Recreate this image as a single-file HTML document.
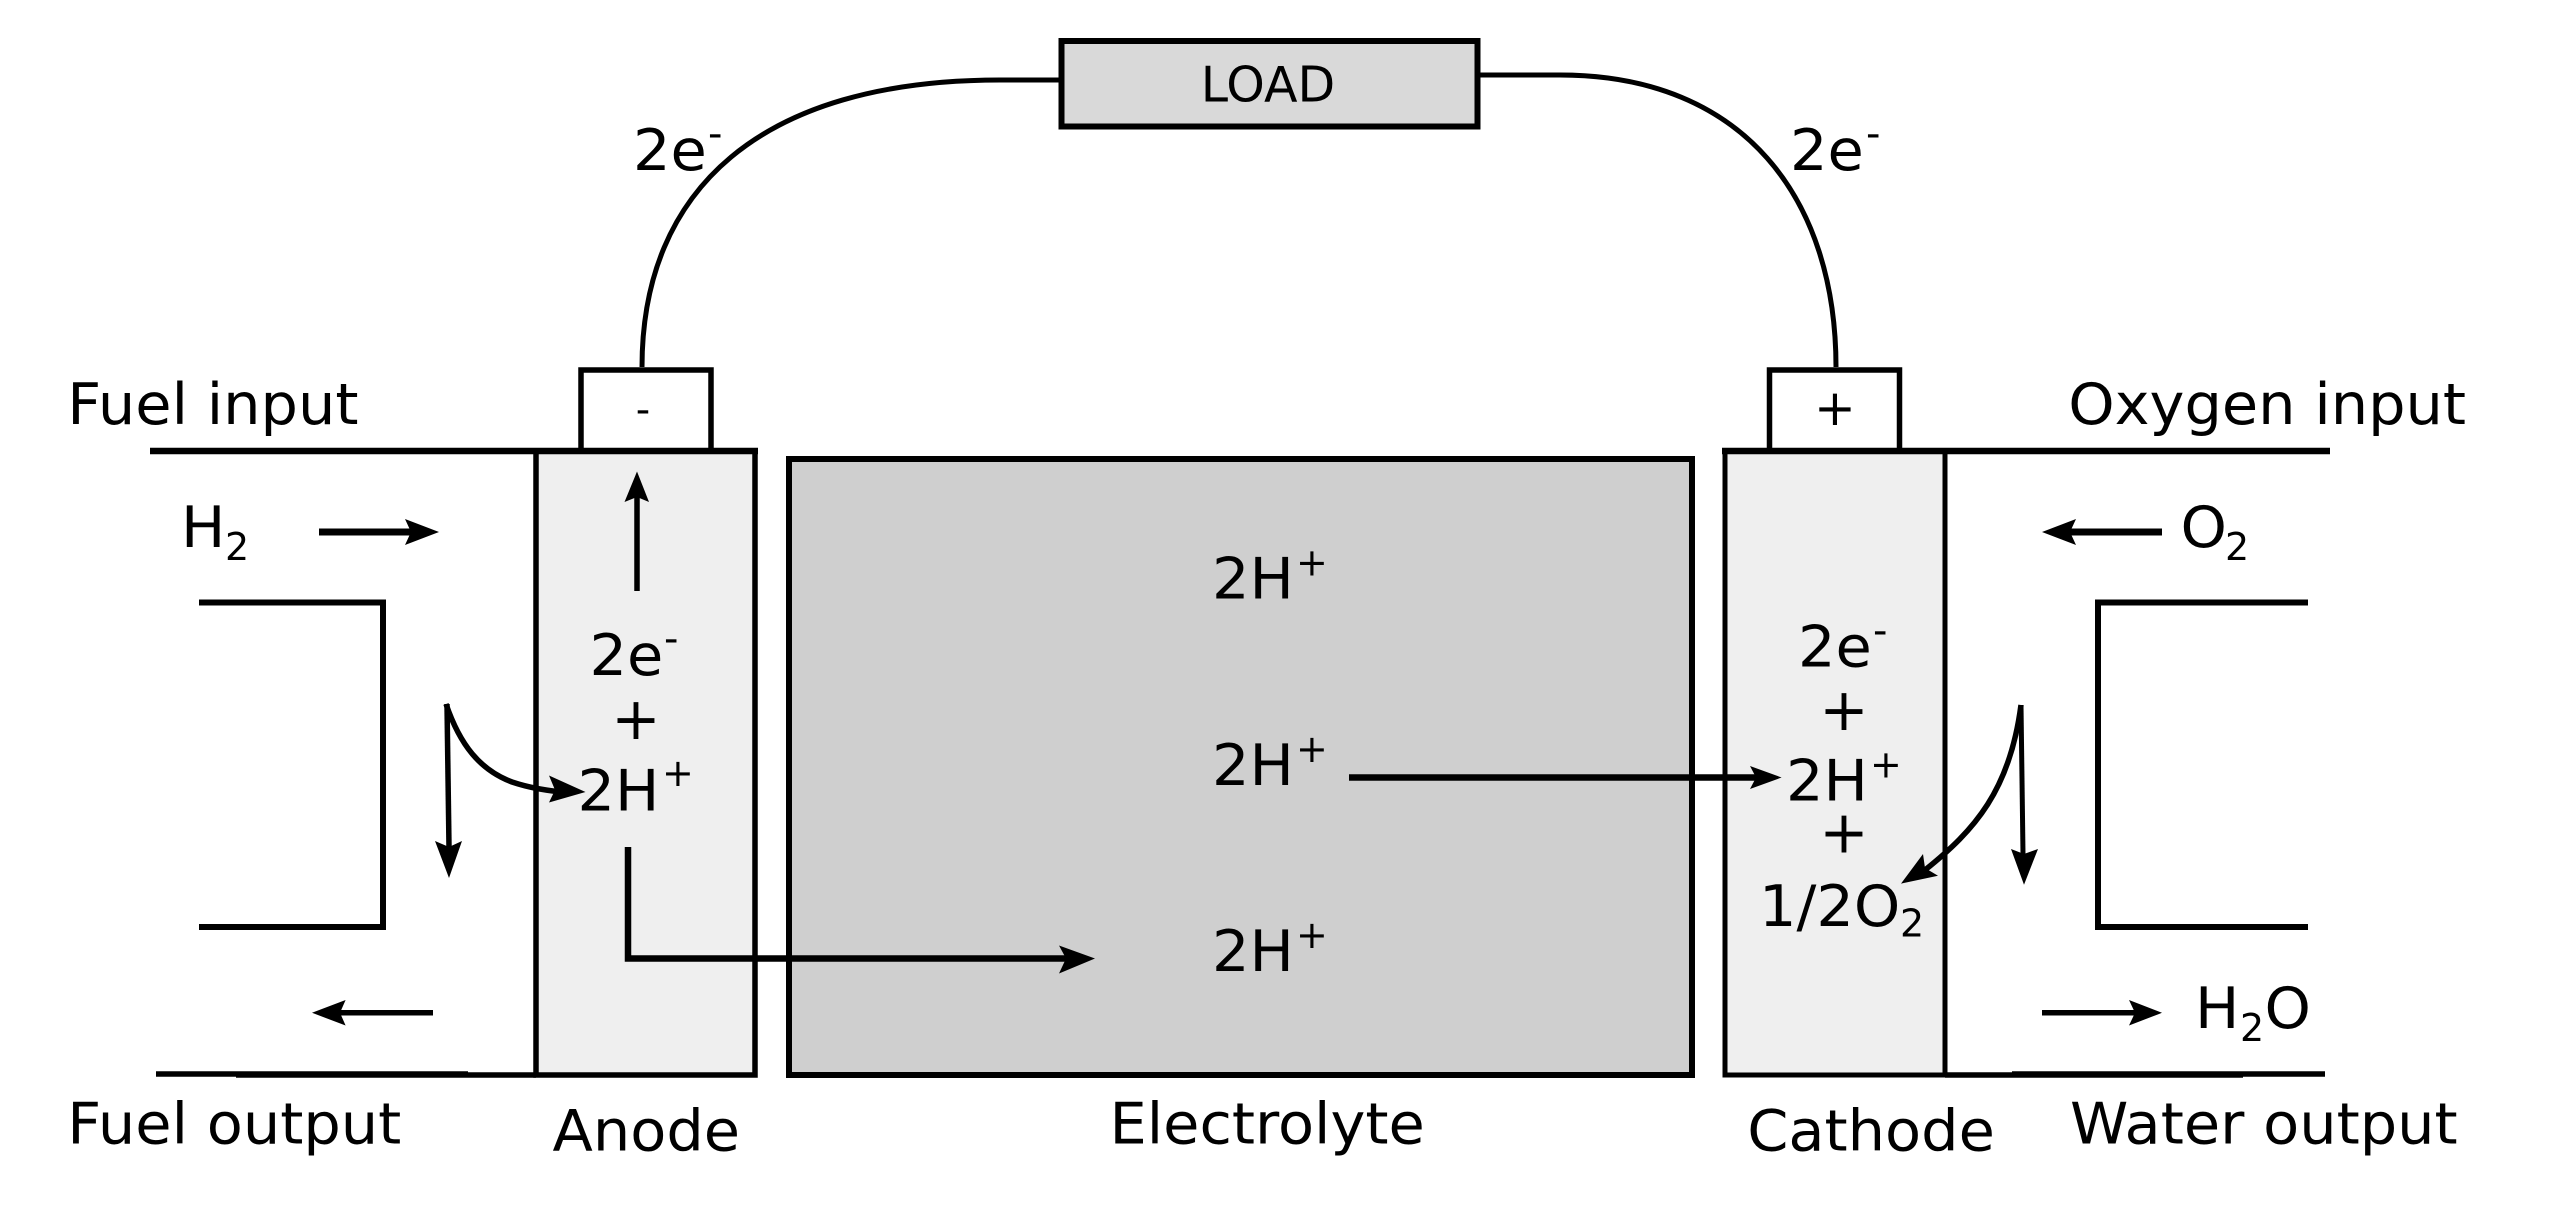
<!DOCTYPE html>
<html><head><meta charset="utf-8"><style>
html,body{margin:0;padding:0;background:#fff}
svg{display:block}
text{font-family:"DejaVu Sans","Liberation Sans",sans-serif;fill:#000}
.l{font-size:57px}.s{font-size:38px}.p{font-size:38px}.b{font-size:59px}
</style></head><body>
<svg width="2549" height="1205" viewBox="0 0 2549 1205" xmlns="http://www.w3.org/2000/svg">
<rect width="2549" height="1205" fill="#fff"/>
<g stroke="#000" fill="none">
<rect x="536" y="451" width="219" height="624" fill="#efefef" stroke-width="5.5"/>
<rect x="789" y="459" width="903" height="616" fill="#cfcfcf" stroke-width="6"/>
<rect x="1725" y="451" width="220" height="624" fill="#efefef" stroke-width="5"/>
<rect x="1061.500" y="41" width="416" height="85.500" fill="#d9d9d9" stroke-width="6"/>
<rect x="581" y="370" width="130" height="81" fill="#fff" stroke-width="5.500"/>
<rect x="1769.500" y="370" width="130" height="81" fill="#fff" stroke-width="5.500"/>
<path d="M150,451H758" stroke-width="6.500"/>
<path d="M1722,451H2330" stroke-width="6.500"/>
<path d="M156,1074H468M236,1075H536" stroke-width="5.500"/>
<path d="M2012,1074H2325M1945,1075H2243" stroke-width="5.500"/>
<path d="M199,602.500H383V927H199" stroke-width="6"/>
<path d="M2308,602.500H2098V927H2308" stroke-width="6"/>
<path d="M642,367C642,190 760,80 1000,80L1059,80" stroke-width="5"/>
<path d="M1836,367C1836,200 1745,75 1560,75L1480,75" stroke-width="5"/>
<path d="M319,532H412" stroke-width="7"/>
<path d="M2162,532H2069" stroke-width="7"/>
<path d="M637,591V495" stroke-width="5.500"/>
<path d="M447,704L449,847" stroke-width="5.500"/>
<path d="M446,704C460,745 480,770 512,782C530,788 545,790 560,792" stroke-width="5.500"/>
<path d="M628,847V958.500H1066" stroke-width="6.500"/>
<path d="M433,1012.800H340" stroke-width="5.500"/>
<path d="M2042,1012.800H2135" stroke-width="5.500"/>
<path d="M1349,777.500H1756" stroke-width="6.500"/>
<path d="M2021,705L2023,854" stroke-width="5"/>
<path d="M2021,705C2010,790 1975,830 1925,870" stroke-width="5.500"/>
</g>
<g fill="#000">
<polygon points="439,532 405,519 411,532 405,545"/>
<polygon points="2042,532 2076,519 2070,532 2076,545"/>
<polygon points="637,471.500 624.500,502 637,497 649,502"/>
<polygon points="449,878 435,841 449,847 462,841"/>
<polygon points="585.500,792 549,775.500 555,790 549,802.500"/>
<polygon points="1095,958.500 1059,945.500 1066,958.500 1059,973.500"/>
<polygon points="312,1012.800 345.600,1000 340,1012.800 345.600,1025.500"/>
<polygon points="2162,1012.800 2129,1000 2135,1012.800 2129,1025.500"/>
<polygon points="1781.600,777.500 1750,766 1756,777.500 1750,789"/>
<polygon points="2024,884.700 2011,849 2024,854 2038,849"/>
<polygon points="1901,883.600 1923,854 1925,868 1938,875.800"/>
</g>
<text class="l" transform="translate(67.200,424) scale(1.035,1)">Fuel input</text>
<text class="l" transform="translate(2068.200,424) scale(1.035,1)">Oxygen input</text>
<text class="l" transform="translate(67.200,1143.500) scale(1.035,1)">Fuel output</text>
<text class="l" transform="translate(552.500,1150.500) scale(1.035,1)">Anode</text>
<text class="l" transform="translate(1109.500,1143.500) scale(1.035,1)">Electrolyte</text>
<text class="l" transform="translate(1747.200,1150.500) scale(1.035,1)">Cathode</text>
<text class="l" transform="translate(2070,1143.500) scale(1.035,1)">Water output</text>
<text x="1268" y="101.400" font-size="49" text-anchor="middle">LOAD</text>
<text x="643" y="423" font-size="40" text-anchor="middle">-</text>
<text x="1835" y="425" font-size="50" text-anchor="middle">+</text>

<text class="l" transform="translate(633,170) scale(1.035,1)">2e</text><text font-size="40" x="708" y="147">-</text>
<text class="l" transform="translate(1790,170) scale(1.035,1)">2e</text><text font-size="40" x="1866" y="147">-</text>

<text class="l" transform="translate(181,547) scale(1.035,1)">H</text><text class="s" x="225" y="560">2</text>
<text class="l" transform="translate(2180.500,547) scale(1.035,1)">O</text><text class="s" x="2225" y="560">2</text>
<text class="l" transform="translate(2195,1028) scale(1.035,1)">H</text><text class="s" x="2240" y="1041">2</text><text class="l" transform="translate(2264.500,1028) scale(1.035,1)">O</text>

<text class="l" transform="translate(589.500,675.200) scale(1.035,1)">2e</text><text font-size="40" x="664" y="652">-</text>
<text class="b" x="636" y="738.900" text-anchor="middle">+</text>
<text class="l" transform="translate(577.500,810.300) scale(1.035,1)">2H</text><text class="p" x="662" y="786">+</text>

<text class="l" transform="translate(1212,598.500) scale(1.035,1)">2H</text><text class="p" x="1296" y="575.500">+</text>
<text class="l" transform="translate(1212,785) scale(1.035,1)">2H</text><text class="p" x="1296" y="762">+</text>
<text class="l" transform="translate(1212,971) scale(1.035,1)">2H</text><text class="p" x="1296" y="948">+</text>

<text class="l" transform="translate(1798,666.700) scale(1.035,1)">2e</text><text font-size="40" x="1873" y="644">-</text>
<text class="b" x="1844" y="730" text-anchor="middle">+</text>
<text class="l" transform="translate(1786,800.600) scale(1.035,1)">2H</text><text class="p" x="1870" y="777.500">+</text>
<text class="b" x="1844" y="852.700" text-anchor="middle">+</text>
<text class="l" transform="translate(1759,926) scale(1.035,1)">1/2O</text><text class="s" x="1900" y="936.500">2</text>
</svg>
</body></html>
